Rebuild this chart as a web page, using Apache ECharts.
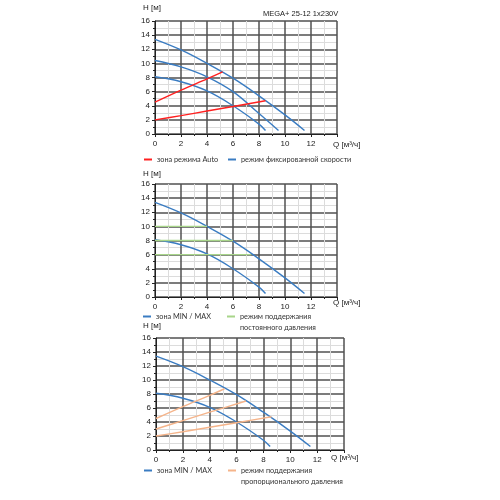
<!DOCTYPE html>
<html>
<head>
<meta charset="utf-8">
<script src="https://cdn.jsdelivr.net/npm/echarts@6/dist/echarts.min.js"></script>
<style>html,body{margin:0;padding:0;background:#fff}#c{width:500px;height:500px}</style>
</head>
<body>
<div id="c"></div>
<script>
// ---- data (Q [m3/h], H [m]) ----
const maxCurve = [[0,13.4],[2,11.9],[4,10.0],[6,7.9],[8,5.4],[10,2.7],[11.5,0.5]];
const midCurve = [[0,10.4],[2,9.5],[4,8.1],[6,6.0],[8,2.9],[9.5,0.5]];
const minCurve = [[0,8.1],[2,7.4],[4,6.1],[6,4.0],[8,1.4],[8.5,0.5]];
const autoUpper = [[0,4.5],[2,6.2],[4,7.8],[5.2,8.8]];
const autoLower = [[0,2.0],[2,2.6],[4,3.25],[6,3.9],[8.5,4.7]];
const constP10 = [[0,10],[4,10]];
const constP8 = [[0,8],[6,8]];
const constP6 = [[0,6],[7.4,6]];
const propUpper = [[0,4.5],[2,6.2],[4,7.8],[5.1,8.75]];
const propMid = [[0,3.0],[2,4.2],[4,5.4],[6.7,7.0]];
const propLower = [[0,2.0],[2,2.6],[4,3.25],[6,3.9],[8.6,4.75]];
const xTicks = [0,2,4,6,8,10,12];
const yTicks = [0,2,4,6,8,10,12,14,16];
const title = 'MEGA+ 25-12 1x230V';
const yName = 'H [м]';
const xName = 'Q [м³/ч]';
const names = {
  auto: 'зона режима Auto',
  fixed: 'режим фиксированной скорости',
  minmax: 'зона MIN / MAX',
  constP: 'режим поддержания\nпостоянного давления',
  propP: 'режим поддержания\nпропорционального давления'
};

const BLUE = '#3a7cc2', RED = '#ff2020', GREEN = '#a8d58a', ORANGE = '#f5b48a';
const numFont = 'Liberation Sans';
const txtFont = 'Lato';

const grids = [
  {left:155, top:21, width:182, height:113},
  {left:155, top:184, width:182, height:113},
  {left:156, top:338, width:188, height:112}
];

function xAx(i){
  return {gridIndex:i, type:'value', min:0, max:14, interval:2,
    axisLine:{show:true, onZero:false, lineStyle:{color:'#222', width:1}},
    axisTick:{show:true, length:3, lineStyle:{color:'#222'}},
    minorTick:{show:true, splitNumber:2, length:2, lineStyle:{color:'#222'}},
    axisLabel:{fontFamily:numFont, fontSize:8, color:'#222', margin:6,
      formatter: v => xTicks.includes(v) ? String(v) : ''},
    splitLine:{show:true, lineStyle:{color:'#505050', width:1.5}},
    minorSplitLine:{show:true, lineStyle:{color:'#dcdcdc', width:1}}
  };
}
function yAx(i){
  return {gridIndex:i, type:'value', min:0, max:16, interval:2,
    axisLine:{show:true, onZero:false, lineStyle:{color:'#222', width:1}},
    axisTick:{show:true, length:3, lineStyle:{color:'#222'}},
    minorTick:{show:true, splitNumber:2, length:2, lineStyle:{color:'#222'}},
    axisLabel:{fontFamily:numFont, fontSize:8, color:'#222', margin:5,
      formatter: v => yTicks.includes(v) ? String(v) : ''},
    splitLine:{show:true, lineStyle:{color:'#505050', width:1.5}},
    minorSplitLine:{show:true, lineStyle:{color:'#dcdcdc', width:1}}
  };
}
function line(name, data, color, gi, smooth){
  return {name, type:'line', data, xAxisIndex:gi, yAxisIndex:gi, showSymbol:false, symbol:'none',
    smooth: smooth === undefined ? 0.4 : smooth, lineStyle:{color, width:1.4}, itemStyle:{color},
    silent:true, animation:false, z: 3};
}

const series = [
  line(names.fixed, maxCurve, BLUE, 0),
  line(names.fixed, midCurve, BLUE, 0),
  line(names.fixed, minCurve, BLUE, 0),
  line(names.auto, autoUpper, RED, 0, 0.3),
  line(names.auto, autoLower, RED, 0, 0.3),
  line(names.minmax, maxCurve, BLUE, 1),
  line(names.minmax, minCurve, BLUE, 1),
  line(names.constP, constP10, GREEN, 1, 0),
  line(names.constP, constP8, GREEN, 1, 0),
  line(names.constP, constP6, GREEN, 1, 0),
  line(names.minmax, maxCurve, BLUE, 2),
  line(names.minmax, minCurve, BLUE, 2),
  line(names.propP, propUpper, ORANGE, 2, 0.3),
  line(names.propP, propMid, ORANGE, 2, 0.3),
  line(names.propP, propLower, ORANGE, 2, 0.3)
];

// icon for two-line legend entries: short bar beside the first text line only
const topBar = 'path://M0,0H8V0.01H0Z M0,4.5H8V6.5H0Z M0,21.99H8V22H0Z';

function leg(name, left, top, twoLine){
  return {data:[name], left, top, padding:0, itemWidth:8, itemHeight: twoLine ? 22 : 2,
    icon: twoLine ? topBar : 'rect',
    selectedMode:false, textStyle:{fontFamily:txtFont, fontSize:7.3, color:'#333', lineHeight:11}};
}

function gtext(text, x, y, align, size, font){
  return {type:'text', left:x, top:y, style:{text, fontFamily:font||numFont, fontSize:size||8, fill:'#222', textAlign:align||'left'}};
}

const chart = echarts.init(document.getElementById('c'), null, {renderer:'canvas'});
chart.setOption({
  animation:false,
  backgroundColor:'#fff',
  grid: grids,
  xAxis: [xAx(0), xAx(1), xAx(2)],
  yAxis: [yAx(0), yAx(1), yAx(2)],
  series,
  legend: [
    leg(names.auto, 144, 154),
    leg(names.fixed, 228, 154),
    leg(names.minmax, 143, 311),
    leg(names.constP, 227, 311, true),
    leg(names.minmax, 144, 465),
    leg(names.propP, 228, 465, true)
  ],
  graphic: [
    gtext(yName, 143, 4),
    gtext(title, 263, 10, 'left', 7.5),
    gtext(xName, 333, 141),
    gtext(yName, 143, 170),
    gtext(xName, 333, 299),
    gtext(yName, 143, 322),
    gtext(xName, 331, 454)
  ]
});
</script>
</body>
</html>
